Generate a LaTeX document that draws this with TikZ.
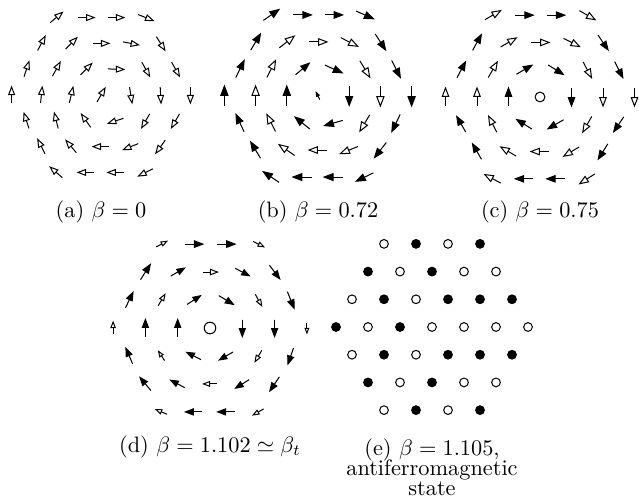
\documentclass[tikz,border=0pt]{standalone}
\tikzset{
  spinline/.style={line width=0.45pt, line join=miter},
  F/.style={fill=black},
  O/.style={fill=white},
  N/.style={draw=none, fill=none},
  captext/.style={inner sep=0pt},
}
\newcommand\spinarrow[5]{%
  \begin{scope}[shift={(#1,#2)},rotate=#3]
    \draw[spinline,#5] ({-#4/2},0) -- ({#4/2-0.4*#4},0);
    \filldraw[spinline,#5] ({#4/2},0) -- ({#4/2-0.47*#4},{0.18*#4}) -- ({#4/2-0.47*#4},{-0.18*#4}) -- cycle;
  \end{scope}}
\newcommand\spinpanel[4]{%
  \foreach \row [count=\r from 0] in {#4} {%
    \pgfmathsetmacro\nn{7-abs(\r-3)}%
    \foreach \ang/\len/\typ [count=\k from 0] in \row {%
      \pgfmathsetmacro\px{#1+(\k-(\nn-1)/2)*#3}%
      \pgfmathsetmacro\py{-(#2+(\r-3)*#3*0.866)}%
      \spinarrow{\px}{\py}{\ang}{\len}{\typ}%
    }%
  }%
}
\newcommand\dotpanel[4]{%
  \foreach \row [count=\r from 0] in {#4} {%
    \pgfmathsetmacro\nn{7-abs(\r-3)}%
    \foreach \typ [count=\k from 0] in \row {%
      \pgfmathsetmacro\px{#1+(\k-(\nn-1)/2)*#3}%
      \pgfmathsetmacro\py{-(#2+(\r-3)*#3*0.866)}%
      \draw[spinline,\typ] (\px,\py) circle[radius=1.95pt];
    }%
  }%
}
\begin{document}
\begin{tikzpicture}[x=0.448pt,y=0.448pt]
\useasboundingbox (0,0) rectangle (639,-500);
% (a)
\spinpanel{101}{95}{29.8}{
{40/16/O,0/16/O,0/16/O,-22/16/O},
{62/16/O,45/16/O,0/16/O,-11/16/O,-58/16/O},
{72/16/O,61/16/O,45/16/O,-2/16/O,-61/16/O,-61/16/O},
{90/16/O,84/16/O,77/16/O,60/16/O,-81/16/O,-87/16/O,-90/16/O},
{108/16/O,104/16/O,125/16/O,198/16/O,240/16/O,240/16/O},
{117/16/O,130/16/O,180/16/O,202/16/O,234/16/O},
{139/16/O,180/16/O,180/16/O,207/16/O}}
% (b)
\spinpanel{318}{96}{31.2}{
{35/19/F,0/18/F,0/18/F,-24/19/F},
{59/19/F,38/19/O,0/18/O,-27/19/O,-57/19/F},
{64/19/F,63/19/O,40/18/F,-24/19/F,-59/19/O,-63/19/F},
{90/20/F,90/20/O,90/20/F,117/8/F,-90/19/F,-90/20/O,-90/20/F},
{115/19/F,117/19/O,141/19/F,196/19/F,239/19/O,244/19/F},
{121/19/F,145/19/O,180/18/O,202/19/O,232/19/F},
{146/19/F,180/19/F,180/19/F,206/19/F}}
% (c)
\spinpanel{540}{97}{31.5}{
{30/18/O,0/18/F,0/18/F,-30/18/O},
{61/18/F,30/18/O,0/18/O,-27/18/O,-56/18/F},
{62/18/F,60/18/O,30/18/F,-32/18/F,-62/18/O,-63/18/F},
{90/18/O,90/18/O,90/18/F,0/0/N,-90/18/F,-90/18/O,-90/18/O},
{120/18/F,117/18/O,148/18/F,210/18/F,240/18/O,236/18/F},
{120/18/F,149/18/O,180/18/O,211/18/O,238/18/F},
{152/18/O,180/18/F,180/18/F,213/18/O}}
\draw[spinline,fill=white] (540,-97) circle[radius=2.2pt];
% (d)
\spinpanel{210}{328}{32.3}{
{28/12/O,0/18/F,0/18/F,-27/12/O},
{57/18/F,30/16/F,0/15/O,-28/16/F,-53/17/F},
{64/17/F,59/13/O,33/16/F,-31/17/F,-61/13/O,-68/18/F},
{90/12/O,90/17/F,90/17/F,0/0/N,-90/17/F,-90/17/F,-90/10/O},
{113/17/F,123/11/O,153/16/F,210/16/F,239/13/O,251/17/F},
{130/17/F,152/16/F,180/13/O,212/16/F,236/17/F},
{157/12/O,180/17/F,180/17/F,210/12/O}}
\draw[spinline,fill=white] (210,-328) circle[radius=2.6pt];
% (e)
\dotpanel{432}{327}{32}{
{O,F,O,F},
{F,O,F,O,O},
{O,F,O,F,F,F},
{F,O,F,O,O,O,O},
{O,F,O,F,F,F},
{F,O,F,O,O},
{O,F,O,F}}
% captions
\node[captext] (capa) at (101,-212) {(a) $\beta=0$};
\node[captext] (capb) at (318,-212) {(b) $\beta=0.72$};
\node[captext] (capc) at (540,-212) {(c) $\beta=0.75$};
\node[captext] (capd) at (210,-447) {(d) $\beta=1.102\simeq\beta_t$};
\node[captext,align=center,anchor=north] (cape) at (432,-438) {(e) $\beta=1.105$,\\[-3pt]antiferromagnetic\\[-3pt]state};
\end{tikzpicture}
\end{document}
